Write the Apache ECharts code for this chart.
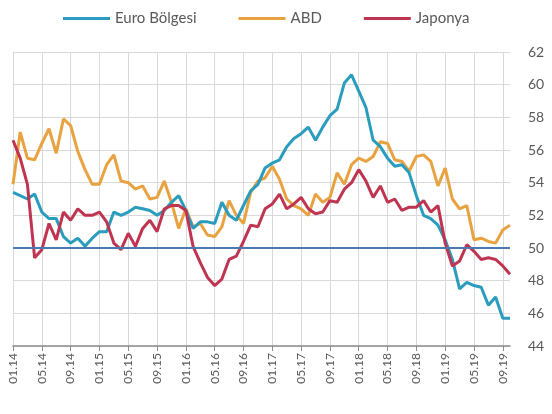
<!DOCTYPE html>
<html>
<head>
<meta charset="utf-8">
<script src="https://cdn.jsdelivr.net/npm/echarts@6/dist/echarts.min.js"></script>
<style>
  html, body { margin: 0; padding: 0; background: #fff; }
  #chart { width: 552px; height: 414px; }
</style>
</head>
<body>
<div id="chart"></div>
<script>
// aylar: 01.14 - 10.19
var months = [
  '01.14', '02.14', '03.14', '04.14', '05.14', '06.14', '07.14', '08.14', '09.14', '10.14', '11.14', '12.14',
  '01.15', '02.15', '03.15', '04.15', '05.15', '06.15', '07.15', '08.15', '09.15', '10.15', '11.15', '12.15',
  '01.16', '02.16', '03.16', '04.16', '05.16', '06.16', '07.16', '08.16', '09.16', '10.16', '11.16', '12.16',
  '01.17', '02.17', '03.17', '04.17', '05.17', '06.17', '07.17', '08.17', '09.17', '10.17', '11.17', '12.17',
  '01.18', '02.18', '03.18', '04.18', '05.18', '06.18', '07.18', '08.18', '09.18', '10.18', '11.18', '12.18',
  '01.19', '02.19', '03.19', '04.19', '05.19', '06.19', '07.19', '08.19', '09.19', '10.19'
]

var euro = [
  53.4, 53.2, 53.0, 53.3, 52.2, 51.8, 51.8, 50.7, 50.3, 50.6, 50.1, 50.6,
  51.0, 51.0, 52.2, 52.0, 52.2, 52.5, 52.4, 52.3, 52.0, 52.3, 52.8, 53.2,
  52.3, 51.2, 51.6, 51.6, 51.5, 52.8, 52.0, 51.7, 52.6, 53.5, 53.9, 54.9,
  55.2, 55.4, 56.2, 56.7, 57.0, 57.4, 56.6, 57.4, 58.1, 58.5, 60.1, 60.6,
  59.6, 58.6, 56.6, 56.2, 55.5, 55.0, 55.1, 54.6, 53.2, 52.0, 51.8, 51.4,
  50.5, 49.3, 47.5, 47.9, 47.7, 47.6, 46.5, 47.0, 45.7, 45.7
]

var abd = [
  53.9, 57.1, 55.5, 55.4, 56.4, 57.3, 55.8, 57.9, 57.5, 55.9, 54.8, 53.9,
  53.9, 55.1, 55.7, 54.1, 54.0, 53.6, 53.8, 53.0, 53.1, 54.1, 52.8, 51.2,
  52.4, 51.3, 51.5, 50.8, 50.7, 51.3, 52.9, 52.0, 51.5, 53.4, 54.1, 54.3,
  55.0, 54.2, 53.0, 52.6, 52.4, 52.0, 53.3, 52.8, 53.1, 54.6, 53.9, 55.1,
  55.5, 55.3, 55.6, 56.5, 56.4, 55.4, 55.3, 54.7, 55.6, 55.7, 55.3, 53.8,
  54.9, 53.0, 52.4, 52.6, 50.5, 50.6, 50.4, 50.3, 51.1, 51.4
]

var japonya = [
  56.6, 55.5, 53.9, 49.4, 49.9, 51.5, 50.5, 52.2, 51.7, 52.4, 52.0, 52.0,
  52.2, 51.6, 50.3, 49.9, 50.9, 50.1, 51.2, 51.7, 51.0, 52.4, 52.6, 52.6,
  52.3, 50.1, 49.1, 48.2, 47.7, 48.1, 49.3, 49.5, 50.4, 51.4, 51.3, 52.4,
  52.7, 53.3, 52.4, 52.7, 53.1, 52.4, 52.1, 52.2, 52.9, 52.8, 53.6, 54.0,
  54.8, 54.1, 53.1, 53.8, 52.8, 53.0, 52.3, 52.5, 52.5, 52.9, 52.2, 52.6,
  50.3, 48.9, 49.2, 50.2, 49.8, 49.3, 49.4, 49.3, 48.9, 48.4
]

var esik = 50

var chart = echarts.init(document.getElementById('chart'))
var txt = '#595959'
var font = 'Lato, "Open Sans", sans-serif'

var option = {
  backgroundColor: '#fff',
  animation: false,
  textStyle: { fontFamily: font },
  legend: {
    left: 58,
    top: 6,
    itemWidth: 47,
    itemHeight: 3,
    itemGap: 42,
    icon: 'rect',
    textStyle: { color: txt, fontSize: 15, fontFamily: font },
    data: ['Euro Bölgesi', 'ABD', 'Japonya']
  },
  grid: {
    left: 13,
    right: 42,
    top: 52,
    bottom: 68
  },
  xAxis: {
    type: 'category',
    boundaryGap: false,
    data: months,
    axisLine: { lineStyle: { color: '#8c8c8c', width: 1.5 } },
    axisTick: { interval: 3, length: 5, lineStyle: { color: '#8c8c8c' } },
    axisLabel: {
      interval: 3,
      rotate: 90,
      color: txt,
      fontSize: 12,
      margin: 7,
      fontFamily: font
    },
    splitLine: { show: true, interval: 3, lineStyle: { color: '#d9d9d9', width: 1 } }
  },
  yAxis: {
    type: 'value',
    position: 'right',
    min: 44,
    max: 62,
    interval: 2,
    axisLine: { show: false },
    axisTick: { show: false },
    axisLabel: { color: txt, fontSize: 14, margin: 18, fontFamily: font },
    splitLine: { lineStyle: { color: '#d9d9d9', width: 1 } }
  },
  series: [
    {
      name: 'Euro Bölgesi',
      type: 'line',
      data: euro,
      symbol: 'none',
      color: '#2a9cbd',
      lineStyle: { width: 3 },
      z: 3,
      markLine: {
        silent: true,
        symbol: 'none',
        label: { show: false },
        lineStyle: { color: '#4a7bb0', width: 2, type: 'solid' },
        data: [{ yAxis: esik }]
      }
    },
    {
      name: 'ABD',
      type: 'line',
      data: abd,
      symbol: 'none',
      color: '#e8a23f',
      lineStyle: { width: 3 },
      z: 2
    },
    {
      name: 'Japonya',
      type: 'line',
      data: japonya,
      symbol: 'none',
      color: '#bf3450',
      lineStyle: { width: 3 },
      z: 4
    }
  ]
}

chart.setOption(option)
</script>
</body>
</html>
